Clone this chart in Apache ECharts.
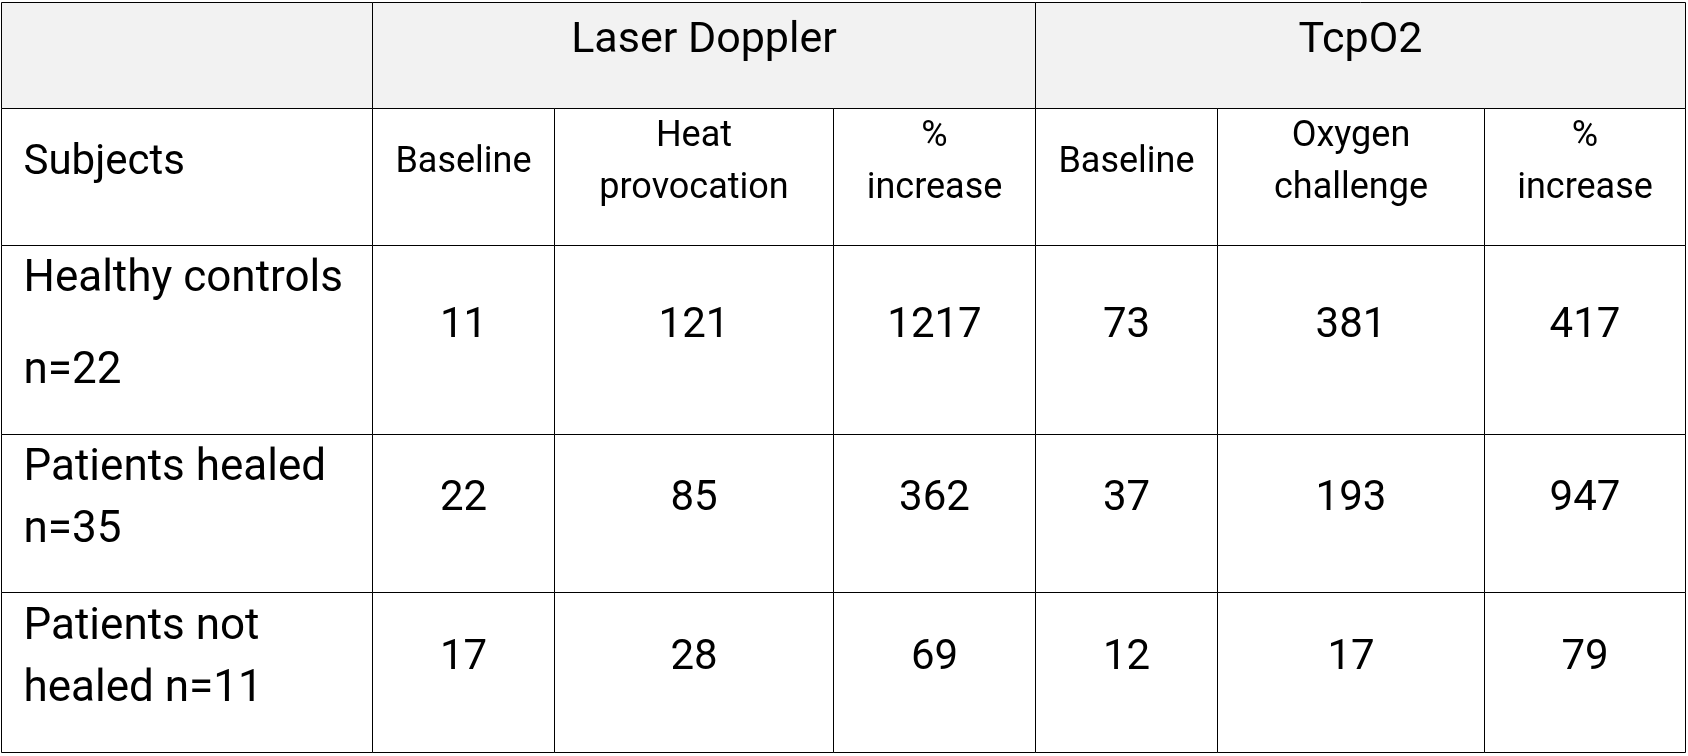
<!DOCTYPE html>
<html>
<head>
<meta charset="utf-8">
<script src="https://cdn.jsdelivr.net/npm/echarts@6/dist/echarts.min.js"></script>
<style>
  html, body { margin: 0; padding: 0; background: #ffffff; }
  #chart { width: 1688px; height: 756px; }
</style>
</head>
<body>
<div id="chart"></div>
<script>
// ---- data ----
const groupHeaders = ['Laser Doppler', 'TcpO2'];
const groupSpans = [3, 3];
const subjectsHeader = 'Subjects';
const measureHeaders = ['Baseline', 'Heat\nprovocation', '%\nincrease', 'Baseline', 'Oxygen\nchallenge', '%\nincrease'];
const subjects = ['Healthy controls\nn=22', 'Patients healed\nn=35', 'Patients not\nhealed n=11'];
const healthyControls = [11, 121, 1217, 73, 381, 417];
const patientsHealed = [22, 85, 362, 37, 193, 947];
const patientsNotHealed = [17, 28, 69, 12, 17, 79];

// ---- layout / style (not data) ----
const colEdges = [1, 372, 554, 833, 1035, 1217, 1484, 1685];
const rowEdges = [2, 108, 245, 434, 592, 752];
const textShift = -14;
const labelLineHeights = [92, 62, 62];
const headerFill = '#f2f2f2';
const fontFamily = 'Roboto, "Open Sans", sans-serif';

// build cell list from data arrays
const cells = [];
cells.push({ c0: 0, c1: 1, r0: 0, r1: 1, text: '', kind: 'group' });
let c = 1;
groupHeaders.forEach((g, i) => {
  cells.push({ c0: c, c1: c + groupSpans[i], r0: 0, r1: 1, text: g, kind: 'group' });
  c += groupSpans[i];
});
cells.push({ c0: 0, c1: 1, r0: 1, r1: 2, text: subjectsHeader, kind: 'subjHead' });
measureHeaders.forEach((m, i) => {
  cells.push({ c0: i + 1, c1: i + 2, r0: 1, r1: 2, text: m, kind: 'measure' });
});
const rows = [healthyControls, patientsHealed, patientsNotHealed];
rows.forEach((vals, r) => {
  cells.push({ c0: 0, c1: 1, r0: r + 2, r1: r + 3, text: subjects[r], kind: 'label', li: r });
  vals.forEach((v, i) => {
    cells.push({ c0: i + 1, c1: i + 2, r0: r + 2, r1: r + 3, text: String(v), kind: 'value' });
  });
});

const styles = {
  group:    { fontSize: 43, align: 'center', lineHeight: 50 },
  subjHead: { fontSize: 42, align: 'left', lineHeight: 50 },
  measure:  { fontSize: 36, align: 'center', lineHeight: 52 },
  label:    { fontSize: 44, align: 'left', lineHeight: 62 },
  value:    { fontSize: 42, align: 'center', lineHeight: 50 }
};

function crisp(v) { return Math.round(v) + 0.5; }

const chart = echarts.init(document.getElementById('chart'), null, { renderer: 'canvas' });
chart.setOption({
  animation: false,
  backgroundColor: '#ffffff',
  grid: { left: 0, right: 0, top: 0, bottom: 0 },
  xAxis: { type: 'value', min: 0, max: 1688, show: false },
  yAxis: { type: 'value', min: 0, max: 756, inverse: true, show: false },
  series: [{
    type: 'custom',
    coordinateSystem: 'cartesian2d',
    data: cells.map((cl, i) => [colEdges[cl.c0], colEdges[cl.c1], rowEdges[cl.r0], rowEdges[cl.r1], i]),
    renderItem: function (params, api) {
      const cell = cells[api.value(4)];
      const p0 = api.coord([api.value(0), api.value(2)]);
      const p1 = api.coord([api.value(1), api.value(3)]);
      const x0 = crisp(p0[0]), y0 = crisp(p0[1]), x1 = crisp(p1[0]), y1 = crisp(p1[1]);
      const st = styles[cell.kind];
      const lh = cell.kind === 'label' ? labelLineHeights[cell.li] : st.lineHeight;
      const tx = st.align === 'left' ? x0 + 22 : (x0 + x1) / 2;
      const ty = (y0 + y1) / 2 + textShift;
      return {
        type: 'group',
        children: [
          {
            type: 'rect',
            shape: { x: x0, y: y0, width: x1 - x0, height: y1 - y0 },
            style: { fill: cell.r0 === 0 ? headerFill : '#ffffff', stroke: '#000000', lineWidth: 1 }
          },
          {
            type: 'text',
            x: tx, y: ty,
            style: {
              text: cell.text,
              fill: '#000000',
              font: st.fontSize + 'px ' + fontFamily,
              fontSize: st.fontSize,
              fontFamily: fontFamily,
              lineHeight: lh,
              align: st.align,
              verticalAlign: 'middle'
            }
          }
        ]
      };
    }
  }]
});
</script>
</body>
</html>
